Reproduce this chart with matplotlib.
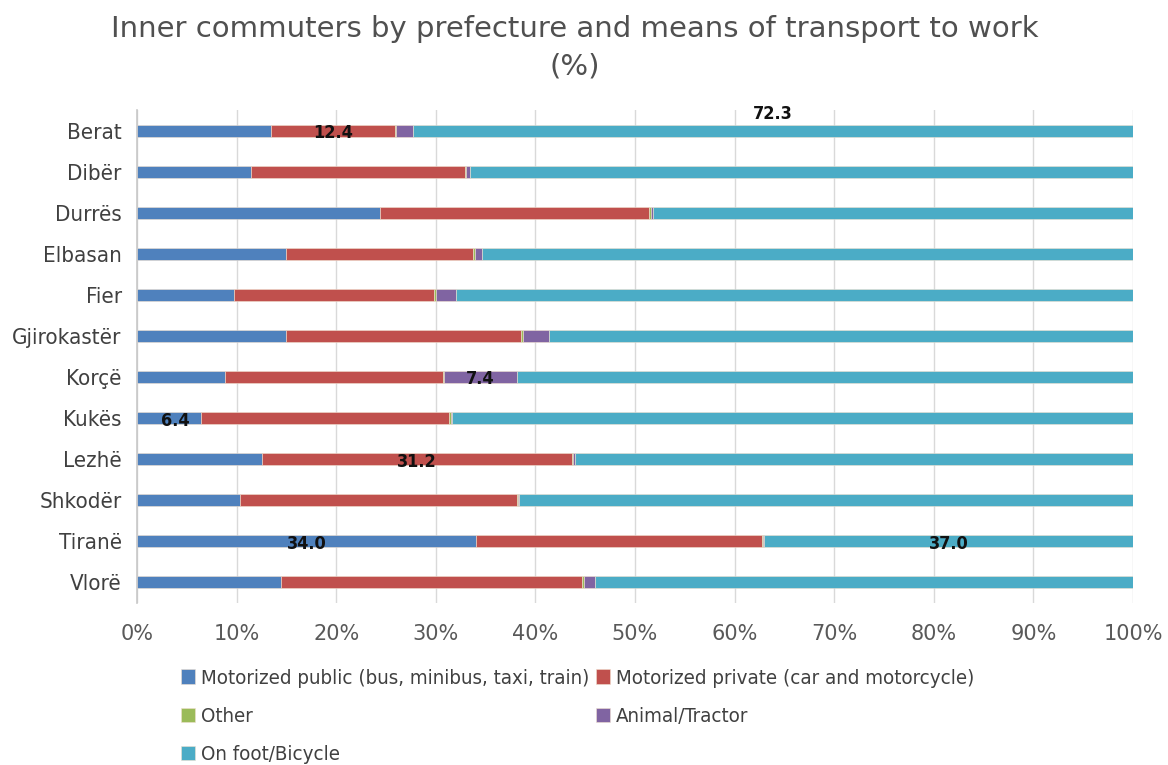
import matplotlib
matplotlib.use("Agg")
import matplotlib.pyplot as plt
import numpy as np

plt.rcParams['font.family'] = ['DejaVu Sans']
plt.rcParams['font.stretch'] = 'condensed'

prefectures = ["Berat", "Dibër", "Durrës", "Elbasan", "Fier", "Gjirokastër",
               "Korçë", "Kukës", "Lezhë", "Shkodër", "Tiranë", "Vlorë"]
public = [13.5, 11.4, 24.4, 15.0, 9.7, 15.0, 8.8, 6.4, 12.5, 10.3, 34.0, 14.5]
private = [12.4, 21.5, 27.0, 18.7, 20.1, 23.6, 21.9, 24.9, 31.2, 27.9, 28.8, 30.2]
other = [0.1, 0.1, 0.2, 0.2, 0.2, 0.2, 0.1, 0.2, 0.1, 0.1, 0.1, 0.2]
animal = [1.7, 0.4, 0.2, 0.7, 2.0, 2.6, 7.4, 0.1, 0.2, 0.1, 0.1, 1.1]
foot = [72.3, 66.6, 48.2, 65.4, 68.0, 58.6, 61.8, 68.4, 56.0, 61.6, 37.0, 54.0]

series_names = ["Motorized public (bus, minibus, taxi, train)",
                "Motorized private (car and motorcycle)",
                "Other", "Animal/Tractor", "On foot/Bicycle"]
colors = ["#4F81BD", "#C0504D", "#9BBB59", "#8064A2", "#4BACC6"]
xticks = [0, 10, 20, 30, 40, 50, 60, 70, 80, 90, 100]
xtick_labels = ["0%", "10%", "20%", "30%", "40%", "50%", "60%", "70%", "80%", "90%", "100%"]

# labelled values: (prefecture, series index)
labelled = [("Berat", 1), ("Berat", 4), ("Korçë", 3), ("Kukës", 0),
            ("Lezhë", 1), ("Tiranë", 0), ("Tiranë", 4)]

fig = plt.figure(figsize=(11.68, 7.65), dpi=100)
ax = fig.add_axes([0.1173, 0.212, 0.8527, 0.644])

data = [public, private, other, animal, foot]
y = np.arange(len(prefectures))
left = np.zeros(len(prefectures))
bars = []
for vals, col, name in zip(data, colors, series_names):
    b = ax.barh(y, vals, left=left, height=0.3, color=col, label=name,
                edgecolor="#f0e0d0", linewidth=0.4, zorder=3)
    bars.append(b)
    left = left + np.array(vals)

# data labels
for pref, si in labelled:
    i = prefectures.index(pref)
    start = sum(data[k][i] for k in range(si))
    val = data[si][i]
    cx = start + val / 2
    cy = i + 0.06
    if pref == "Berat" and si == 4:
        cy = i - 0.4
    if pref == "Kukës":
        cx += 0.6
    ax.text(cx, cy, f"{val:.1f}", ha="center", va="center", fontsize=13,
            fontweight="bold", color="#111111", zorder=5)

ax.set_ylim(len(prefectures) - 0.5, -0.5)
ax.set_xlim(0, 100)
ax.set_yticks(y)
ax.set_yticklabels(prefectures, fontsize=16, color="#404040")
ax.set_xticks(xticks)
ax.set_xticklabels(xtick_labels, fontsize=15, color="#595959", stretch="normal")
ax.tick_params(axis="y", length=0, pad=11)
ax.tick_params(axis="x", length=0, pad=15)
ax.grid(axis="x", color="#d9d9d9", linewidth=1, zorder=0)
for s in ["top", "right", "bottom"]:
    ax.spines[s].set_visible(False)
ax.spines["left"].set_color("#c8c8c8")
ax.spines["left"].set_linewidth(1.2)

fig.text(0.492, 0.980, "Inner commuters by prefecture and means of transport to work\n(%)",
         ha="center", va="top", fontsize=21, color="#505050", linespacing=1.4,
         stretch="normal")

order = [0, 2, 4, 1, 3]
handles = [bars[k] for k in order]
labels = [series_names[k] for k in order]
leg = fig.legend(handles, labels, loc="upper left", bbox_to_anchor=(0.139, 0.150),
                 ncol=2, frameon=False, fontsize=14.7, handlelength=0.7,
                 handleheight=0.7, handletextpad=0.3, columnspacing=0.3,
                 labelspacing=0.95, labelcolor="#404040")

fig.savefig("out.png", dpi=100)
